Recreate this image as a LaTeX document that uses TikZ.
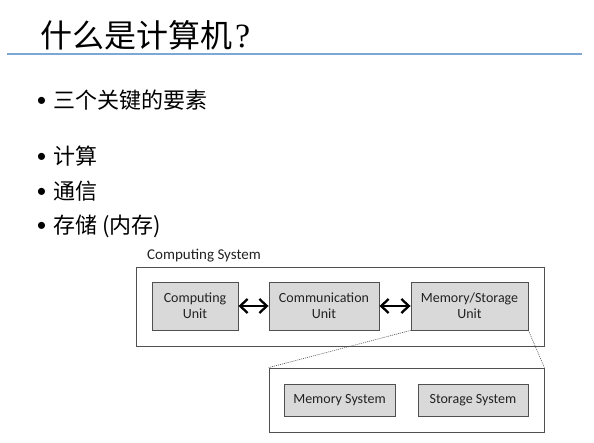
\documentclass[tikz,border=0pt]{standalone}
\usepackage{fontspec}
\setmainfont{Carlito}
\newfontfamily\cjk{Noto Sans CJK SC}
\newfontfamily\serifq{Liberation Serif}
\usetikzlibrary{arrows.meta}
\definecolor{rulecol}{HTML}{7FA7D6}
\definecolor{boxfill}{HTML}{D9D9D9}
\definecolor{boxline}{HTML}{505050}
\definecolor{txt}{HTML}{222222}
\tikzset{
  titletext/.style={anchor=base west, inner sep=0pt, font=\cjk\fontsize{32}{36}\selectfont, text=black},
  bultext/.style={anchor=base west, inner sep=0pt, font=\cjk\fontsize{22}{26}\selectfont, text=black},
  bulmark/.style={anchor=center, inner sep=0pt, font=\fontsize{20}{24}\selectfont, text=black},
  frame/.style={draw=boxline, line width=0.8pt},
  unitbox/.style={draw=boxline, fill=boxfill, line width=0.9pt, inner sep=0pt, align=center, text=txt, font=\fontsize{14}{16}\selectfont},
  link/.style={line width=2.3pt, {Straight Barb[length=7.5pt,width=14pt,line width=2.3pt]}-{Straight Barb[length=7.5pt,width=14pt,line width=2.3pt]}},
  zoomline/.style={draw=boxline, line width=0.6pt, dash pattern=on 1pt off 1pt},
}
\begin{document}
\begin{tikzpicture}[x=1pt,y=-1pt]
\useasboundingbox (0,0) rectangle (594,443);
% title
\node[titletext] (title) at (40,48) {什么是计算机\hspace{3pt}{\serifq\fontsize{34}{36}\selectfont ?}};
\coordinate (ruleL) at (7,54);
\coordinate (ruleR) at (582,54);
\draw[rulecol, line width=1.2pt] (ruleL) -- (ruleR);
% bullets
\node[bulmark] (b1) at (41.5,102) {•};
\node[bultext] (t1) at (53,109) {三个关键的要素};
\node[bulmark] (b2) at (41.5,158) {•};
\node[bultext] (t2) at (53,165) {计算};
\node[bulmark] (b3) at (41.5,192.5) {•};
\node[bultext] (t3) at (53,199.5) {通信};
\node[bulmark] (b4) at (41.5,226.5) {•};
\node[bultext] (t4) at (53,233.5) {存储 (内存)};
% diagram
\node[anchor=base west, inner sep=0pt, text=txt, font=\fontsize{15}{18}\selectfont] (cslabel) at (147,260) {Computing System};
\draw[frame] (136,267) rectangle (544,346);
\node[unitbox, minimum width=86pt, minimum height=48pt] (cu) at (195,306) {Computing\\Unit};
\node[unitbox, minimum width=110pt, minimum height=48pt] (cm) at (324,306) {Communication\\Unit};
\node[unitbox, minimum width=117pt, minimum height=48pt] (ms) at (469.5,306) {Memory/Storage\\Unit};
\draw[link] (cu.east) -- (cm.west);
\draw[link] (cm.east) -- (ms.west);
\node[draw=boxline, line width=0.8pt, minimum width=275pt, minimum height=64pt, inner sep=0pt] (lower) at (406.5,400) {};
\node[unitbox, minimum width=111pt, minimum height=32pt] (mem) at (339.5,400) {Memory System};
\node[unitbox, minimum width=110pt, minimum height=32pt] (sto) at (473,400) {Storage System};
\draw[zoomline] (ms.south west) -- (lower.north west);
\draw[zoomline] (ms.south east) -- (lower.north east);
\end{tikzpicture}
\end{document}
